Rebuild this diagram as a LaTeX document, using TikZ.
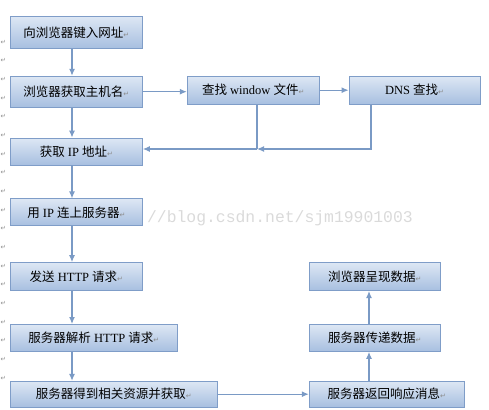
\documentclass[tikz,border=0pt]{standalone}
\usepackage{fontspec}
\setmainfont{Liberation Serif}
\newfontfamily\cjk{Noto Sans CJK SC}
\newfontfamily\symfont{DejaVu Sans}
\newfontfamily\wmfont{Liberation Mono}
\usetikzlibrary{positioning,arrows.meta}
\definecolor{boxtop}{HTML}{DDE7F4}
\definecolor{boxbot}{HTML}{A7BFE0}
\definecolor{boxline}{HTML}{7F9DC8}
\definecolor{linkblue}{HTML}{7A9AC5}
\definecolor{markgray}{HTML}{8C8C8C}
\definecolor{wmgray}{HTML}{DADADA}
\newcommand\parmark{{\symfont\fontsize{7}{7}\selectfont\textcolor{markgray}{↵}}}
\tikzset{
  stepbox/.style={draw=boxline, line width=0.8pt, top color=boxtop, bottom color=boxbot,
    inner sep=0pt, font=\fontsize{12.5}{14}\selectfont, minimum width=132pt},
  arrowline/.style={draw=linkblue, line width=1.2pt, -{Latex[length=7pt,width=6pt]}},
  plainline/.style={draw=linkblue, line width=1.2pt},
}
\begin{document}
\begin{tikzpicture}[x=1pt,y=-1pt]
\useasboundingbox (0,0) rectangle (489,409);
\node[anchor=base east, inner sep=0pt, text=wmgray, font=\wmfont\fontsize{16.4}{18}\selectfont] (mark) at (413,222) {//blog.csdn.net/sjm19901003};
\foreach \i in {0,...,18}
  \node[anchor=west, inner sep=0pt, text=markgray, font=\symfont\fontsize{6.5}{6.5}\selectfont] (m\i) at (0.5,{42+18.67*\i}) {↵};

% left column
\node[stepbox, minimum height=32pt, anchor=north west] (url) at (10,16) {{\cjk 向浏览器键入网址}\parmark};
\node[stepbox, minimum height=31pt, below=27pt of url.south west, anchor=north west] (host) {{\cjk 浏览器获取主机名}\parmark};
\node[stepbox, minimum height=27pt, below=30pt of host.south west, anchor=north west] (ip) {{\cjk 获取} IP {\cjk 地址}\parmark};
\node[stepbox, minimum height=27pt, below=33pt of ip.south west, anchor=north west] (conn) {{\cjk 用} IP {\cjk 连上服务器}\parmark};
\node[stepbox, minimum height=28pt, below=36pt of conn.south west, anchor=north west] (send) {{\cjk 发送} HTTP {\cjk 请求}\parmark};
\node[stepbox, minimum height=27pt, minimum width=167pt, below=33pt of send.south west, anchor=north west] (parse) {{\cjk 服务器解析} HTTP {\cjk 请求}\parmark};
\node[stepbox, minimum height=26pt, minimum width=207pt, below=29pt of parse.south west, anchor=north west] (fetch) {{\cjk 服务器得到相关资源并获取}\parmark};

% top row
\node[stepbox, minimum height=28pt, right=44pt of host.north east, anchor=north west] (win) {{\cjk 查找} window {\cjk 文件}\parmark};
\node[stepbox, minimum height=28pt, minimum width=131pt, right=29pt of win.north east, anchor=north west] (dns) {DNS {\cjk 查找}\parmark};

% right column
\node[stepbox, minimum height=26pt, minimum width=155pt, right=91pt of fetch.north east, anchor=north west] (ret) {{\cjk 服务器返回响应消息}\parmark};
\node[stepbox, minimum height=27pt, minimum width=131pt, above=29pt of ret.north west, anchor=south west] (pass) {{\cjk 服务器传递数据}\parmark};
\node[stepbox, minimum height=28pt, minimum width=131pt, above=33pt of pass.north west, anchor=south west] (show) {{\cjk 浏览器呈现数据}\parmark};

\coordinate (colL) at (72,0);
\coordinate (colR) at (369,0);
\coordinate (joinW) at (257,149);
\coordinate (joinD) at (371,149);

\draw[arrowline] (url.south -| colL) -- (host.north -| colL);
\draw[arrowline] (host.south -| colL) -- (ip.north -| colL);
\draw[arrowline] (ip.south -| colL) -- (conn.north -| colL);
\draw[arrowline] (conn.south -| colL) -- (send.north -| colL);
\draw[arrowline] (send.south -| colL) -- (parse.north -| colL);
\draw[arrowline] (parse.south -| colL) -- (fetch.north -| colL);

\draw[arrowline] (host.east) -- (host.east -| win.west);
\draw[arrowline] (win.east) -- (win.east -| dns.west);
\draw[plainline] (win.south -| joinW) -- (joinW);
\draw[arrowline] (dns.south -| joinD) -- (joinD) -- (joinW);
\draw[arrowline] (joinW) -- (ip.east |- joinW);

\draw[arrowline] (fetch.east) -- (ret.west);
\draw[arrowline] (ret.north -| colR) -- (pass.south -| colR);
\draw[arrowline] (pass.north -| colR) -- (show.south -| colR);
\end{tikzpicture}
\end{document}
